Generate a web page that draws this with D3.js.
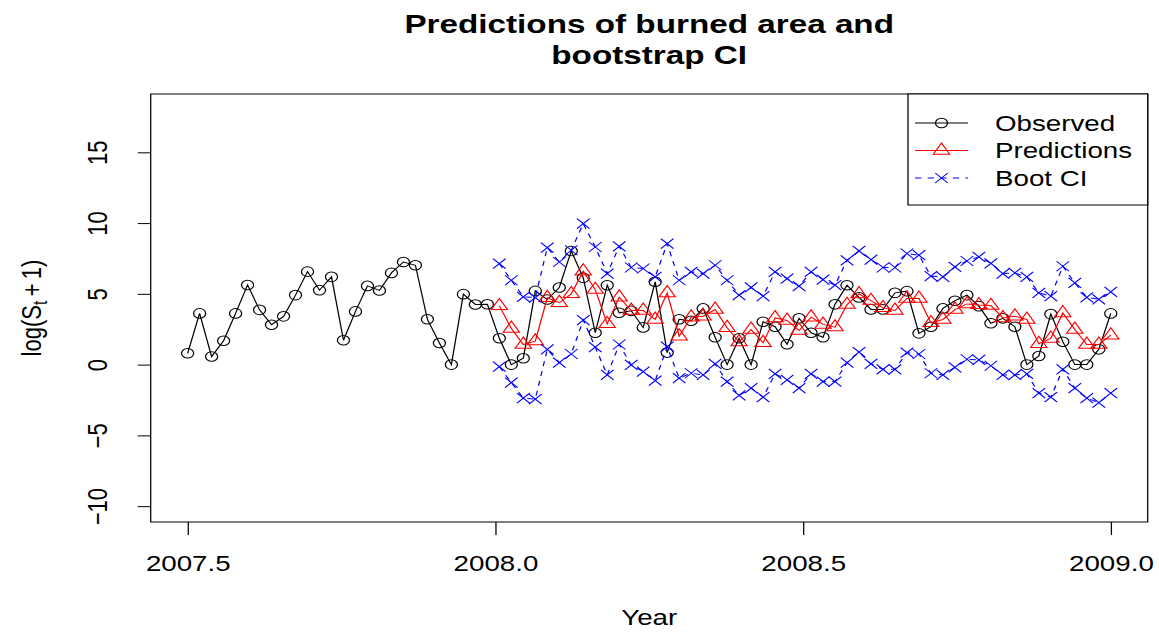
<!DOCTYPE html>
<html>
<head>
<meta charset="utf-8">
<script src="https://cdn.jsdelivr.net/npm/d3@7/dist/d3.min.js"></script>
<style>
  html, body { margin: 0; padding: 0; background: #fff; }
  svg { display: block; }
</style>
</head>
<body>
<script>
// Weekly log(S_t + 1) of burned area, mid-2007 to end of 2008
const observed = [
  0.80, 3.62, 0.57, 1.69, 3.62, 5.63, 3.87, 2.82, 3.41, 4.91,
  6.57, 5.26, 6.20, 1.72, 3.76, 5.56, 5.24, 6.48, 7.25, 7.02,
  3.20, 1.53, 0.00, 4.98, 4.25, 4.27,
  1.86, 0.00, 0.45, 5.21, 4.60, 5.45, 8.03, 6.13, 2.25, 5.61,
  3.66, 3.80, 2.63, 5.85, 0.85, 3.20, 3.10, 3.97, 1.93, 0.00,
  1.86, 0.00, 3.03, 2.68, 1.44, 3.27, 2.25, 1.93, 4.27, 5.61,
  4.75, 3.90, 3.90, 5.07, 5.19, 2.21, 2.68, 3.97, 4.51, 4.91,
  4.13, 2.92, 3.27, 2.68, 0.00, 0.61, 3.57, 1.62, 0.00, 0.00,
  1.08, 3.62
];

// Model predictions for 2008
const predicted = [
  4.15, 2.55, 1.42, 1.66, 4.72, 4.37, 5.00, 6.60, 5.30, 2.88,
  4.76, 3.82, 3.82, 3.19, 5.06, 2.01, 3.35, 3.42, 3.89, 2.60,
  1.60, 2.48, 1.54, 3.30, 3.12, 2.41, 3.35, 2.84, 2.65, 4.24,
  4.99, 4.52, 4.01, 3.82, 4.67, 4.67, 2.95, 3.19, 3.89, 4.29,
  4.22, 4.17, 3.30, 3.42, 3.19, 1.47, 1.85, 3.65, 2.48, 1.42,
  1.42, 2.08
];

// Bootstrap confidence bounds
const upperCI = [
  7.14, 5.96, 4.79, 4.74, 8.27, 7.25, 8.08, 9.96, 8.31, 6.43,
  8.36, 6.86, 6.79, 6.20, 8.55, 5.96, 6.55, 6.43, 7.02, 5.96,
  4.91, 5.45, 4.84, 6.55, 6.08, 5.54, 6.55, 6.01, 5.61, 7.37,
  8.03, 7.42, 6.86, 6.86, 7.85, 7.73, 6.25, 6.20, 6.90, 7.32,
  7.61, 7.16, 6.43, 6.48, 6.20, 5.07, 4.84, 6.95, 5.77, 4.75,
  4.61, 5.14
];
const lowerCI = [
  -0.14, -1.27, -2.37, -2.44, 1.08, 0.14, 0.75, 3.15, 1.23, -0.73,
  1.42, -0.02, -0.49, -1.13, 1.27, -0.96, -0.61, -0.73, 0.05, -1.20,
  -2.18, -1.66, -2.30, -0.65, -1.08, -1.66, -0.65, -1.20, -1.20, 0.14,
  0.88, 0.05, -0.33, -0.33, 0.85, 0.75, -0.61, -0.73, -0.19, 0.38,
  0.33, -0.08, -0.73, -0.73, -0.65, -2.01, -2.30, -0.33, -1.66, -2.37,
  -2.68, -2.01
];

const xTicks = [2007.5, 2008.0, 2008.5, 2009.0];
const yTicks = [-10, -5, 0, 5, 10, 15];
const startYear = 2007.5, endYear = 2009.0;
const yLimits = [-10, 18];

// regular weekly time stamps across the observed span
const time = d3.range(observed.length)
  .map(i => startYear + i * (endYear - startYear) / (observed.length - 1));
const predTime = time.slice(observed.length - predicted.length);

// ---- drawing ----
const SX = 1.26;                 // horizontal stretch of the whole figure
const figW = 1159, figH = 635;
const vw = figW / SX;
const font = "'Liberation Sans', Arial, Helvetica, sans-serif";

const svg = d3.select("body").append("svg")
  .attr("width", figW).attr("height", figH)
  .attr("viewBox", `0 0 ${vw} ${figH}`)
  .attr("preserveAspectRatio", "none");

const pL = 150.7 / SX, pR = 1147.7 / SX, pT = 94, pB = 522;

// R-style 4% padding on both axes
const pad = (a, b) => [a - 0.04 * (b - a), b + 0.04 * (b - a)];
const x = d3.scaleLinear().domain(pad(startYear, endYear)).range([pL, pR]);
const y = d3.scaleLinear().domain(pad(yLimits[0], yLimits[1])).range([pB, pT]);

// title
svg.append("text")
  .attr("text-anchor", "middle")
  .attr("font-family", font).attr("font-weight", "bold").attr("font-size", 26.4)
  .selectAll("tspan")
  .data(["Predictions of burned area and", "bootstrap CI"])
  .join("tspan")
  .attr("x", (pL + pR) / 2)
  .attr("y", (d, i) => 33 + i * 31)
  .text(d => d);

// x axis
const gx = svg.append("g")
  .attr("transform", `translate(0,${pB})`)
  .call(d3.axisBottom(x).tickValues(xTicks).tickFormat(d3.format(".1f"))
    .tickSize(13).tickSizeOuter(0));
gx.select(".domain").remove();
gx.selectAll("line").attr("stroke", "#000").attr("stroke-width", 1);
gx.selectAll("text")
  .attr("font-family", font).attr("font-size", 22).attr("fill", "#000")
  .attr("y", 49).attr("dy", 0);

// y axis
const gy = svg.append("g")
  .attr("transform", `translate(${pL},0)`)
  .call(d3.axisLeft(y).tickValues(yTicks).tickSize(13 / SX).tickSizeOuter(0));
gy.select(".domain").remove();
gy.selectAll("line").attr("stroke", "#000").attr("stroke-width", 1);
gy.selectAll("text")
  .attr("font-family", font).attr("font-size", 22).attr("fill", "#000")
  .attr("text-anchor", "middle")
  .attr("x", null).attr("y", null).attr("dy", null)
  .attr("transform", `translate(${107 / SX - pL},0) rotate(-90)`)
  .text(d => d < 0 ? "\u2212" + Math.abs(d) : d);

// axis titles
svg.append("text")
  .attr("x", (pL + pR) / 2).attr("y", 625)
  .attr("text-anchor", "middle")
  .attr("font-family", font).attr("font-size", 22)
  .text("Year");

const ylab = svg.append("text")
  .attr("transform", `translate(${41 / SX},${(pT + pB) / 2}) rotate(-90)`)
  .attr("text-anchor", "middle")
  .attr("font-family", font).attr("font-size", 22);
ylab.append("tspan").text("log(S");
ylab.append("tspan").attr("font-size", 15.5).attr("dy", 5).text("t");
ylab.append("tspan").attr("dy", -5).text("\u2009+\u20091)");

// plot frame
svg.append("rect")
  .attr("x", pL).attr("y", pT)
  .attr("width", pR - pL).attr("height", pB - pT)
  .attr("fill", "none").attr("stroke", "#000").attr("stroke-width", 1);

// marker shapes (R pch 1, 2, 4)
const R = 4.8;
const triPath = `M0,${-1.5551 * R}L${1.3468 * R},${0.7776 * R}L${-1.3468 * R},${0.7776 * R}Z`;
const crossH = 5;
const crossPath = `M${-crossH},${-crossH}L${crossH},${crossH}M${-crossH},${crossH}L${crossH},${-crossH}`;

const plot = svg.append("g");
const line = d3.line().x(d => x(d[0])).y(d => y(d[1]));

function series(ts, vals, color, dash, shape) {
  const pts = ts.map((t, i) => [t, vals[i]]);
  plot.append("path").datum(pts)
    .attr("d", line).attr("fill", "none")
    .attr("stroke", color).attr("stroke-width", 1)
    .attr("stroke-dasharray", dash);
  const g = plot.append("g");
  if (shape === "circle") {
    g.selectAll("circle").data(pts).join("circle")
      .attr("cx", d => x(d[0])).attr("cy", d => y(d[1])).attr("r", R)
      .attr("fill", "none").attr("stroke", color).attr("stroke-width", 1);
  } else {
    g.selectAll("path").data(pts).join("path")
      .attr("transform", d => `translate(${x(d[0])},${y(d[1])})`)
      .attr("d", shape === "triangle" ? triPath : crossPath)
      .attr("fill", "none").attr("stroke", color).attr("stroke-width", 1);
  }
}

series(time, observed, "#000", null, "circle");
series(predTime, predicted, "#ff0000", null, "triangle");
series(predTime, upperCI, "#0000ff", "5,5", "cross");
series(predTime, lowerCI, "#0000ff", "5,5", "cross");

// legend
const legendItems = [
  { label: "Observed", color: "#000", dash: null, shape: "circle" },
  { label: "Predictions", color: "#ff0000", dash: null, shape: "triangle" },
  { label: "Boot CI", color: "#0000ff", dash: "5,5", shape: "cross" }
];
const lgLeft = 908 / SX;
const lg = svg.append("g");
lg.append("rect")
  .attr("x", lgLeft).attr("y", pT)
  .attr("width", pR - lgLeft).attr("height", 205 - pT)
  .attr("fill", "#fff").attr("stroke", "#000").attr("stroke-width", 1);
legendItems.forEach((it, i) => {
  const cy = 123 + i * 27.5;
  const x0 = 915 / SX, x1 = 968 / SX, xm = 941.5 / SX;
  lg.append("line").attr("x1", x0).attr("x2", x1).attr("y1", cy).attr("y2", cy)
    .attr("stroke", it.color).attr("stroke-width", 1).attr("stroke-dasharray", it.dash);
  if (it.shape === "circle") {
    lg.append("circle").attr("cx", xm).attr("cy", cy).attr("r", R)
      .attr("fill", "none").attr("stroke", it.color);
  } else {
    lg.append("path").attr("transform", `translate(${xm},${cy})`)
      .attr("d", it.shape === "triangle" ? triPath : crossPath)
      .attr("fill", "none").attr("stroke", it.color);
  }
  lg.append("text").attr("x", 995 / SX).attr("y", cy + 8)
    .attr("font-family", font).attr("font-size", 22).text(it.label);
});
</script>
</body>
</html>
